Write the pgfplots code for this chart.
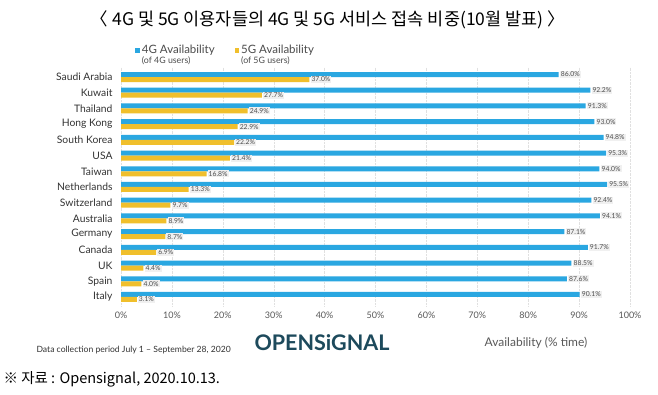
\documentclass[border=0pt]{standalone}
\usepackage{pgfplots}
\pgfplotsset{compat=1.18}
\usepackage{fontspec}
\setmainfont{Lato}
\newfontfamily\kr{Noto Sans CJK KR}
\definecolor{bar4g}{HTML}{2AA7E1}
\definecolor{bar5g}{HTML}{F0BF2C}
\definecolor{logo}{HTML}{1D4A5C}
\definecolor{txt}{HTML}{333333}
\begin{document}
\begin{tikzpicture}[x=1pt,y=1pt]
\useasboundingbox (0,0) rectangle (658,395);
\fill[white] (0,0) rectangle (658,395);
\begin{axis}[
  at={(121pt,88.6pt)}, anchor=south west,
  scale only axis, width=509pt, height=238.8pt,
  xmin=0, xmax=100, ymin=-0.6, ymax=14.6, y dir=reverse,
  /pgf/number format/assume math mode=true,
  axis line style={draw=none},
  major tick length=0pt,
  xtick={0,10,...,100},
  xticklabel={\pgfmathprintnumber{\tick}\%},
  xticklabel style={font=\fontsize{9}{10}\selectfont, text=black!65, yshift=-2pt},
  ytick={0,...,14},
  yticklabels={Saudi Arabia,Kuwait,Thailand,Hong Kong,South Korea,USA,Taiwan,Netherlands,Switzerland,Australia,Germany,Canada,UK,Spain,Italy},
  yticklabel style={font=\fontsize{10.3}{11}\selectfont, text=txt, xshift=-5pt},
  xmajorgrids, grid style={densely dotted, black!12},
  xbar, bar width=5pt,
  nodes near coords={\pgfmathprintnumber[fixed,fixed zerofill,precision=1]{\pgfplotspointmeta}\%},
  point meta=x,
  every node near coord/.append style={font=\fontsize{6.8}{7}\selectfont, text=black!70, fill=black!6, inner sep=1pt, anchor=west, xshift=1pt},
  legend columns=2,
  legend cell align=left,
  legend style={at={(0.022,1.112)}, anchor=north west, draw=none, fill=none,
     font=\fontsize{11.5}{11}\selectfont, text=black!70,
     cells={align=left},
     /tikz/every even column/.append style={column sep=18pt}},
  legend image code/.code={\fill[#1] (2pt,2.5pt) rectangle (6.5pt,7pt);},
]
\addplot[draw=none, fill=bar4g, bar shift=2.5pt] coordinates {
 (86.0,0) (92.2,1) (91.3,2) (93.0,3) (94.8,4) (95.3,5) (94.0,6) (95.5,7)
 (92.4,8) (94.1,9) (87.1,10) (91.7,11) (88.5,12) (87.6,13) (90.1,14)};
\addlegendentry{4G Availability\\[-1pt]{\fontsize{8.8}{8.8}\selectfont (of 4G users)}}
\addplot[draw=none, fill=bar5g, bar shift=-2.5pt] coordinates {
 (37.0,0) (27.7,1) (24.9,2) (22.9,3) (22.2,4) (21.4,5) (16.8,6) (13.3,7)
 (9.7,8) (8.9,9) (8.7,10) (6.9,11) (4.4,12) (4.0,13) (3.1,14)};
\addlegendentry{5G Availability\\[-1pt]{\fontsize{8.8}{8.8}\selectfont (of 5G users)}}
\end{axis}
\node[font=\kr\fontsize{17.5}{17.5}\selectfont, anchor=center] at (328,375) {〈 4G 및 5G 이용자들의 4G 및 5G 서비스 접속 비중(10월 발표) 〉};
\node[font=\fontsize{8.6}{9}\selectfont, text=black!80, anchor=west] at (33,45) {Data collection period July 1 – September 28, 2020};
\node[font=\bfseries\fontsize{21.5}{21.5}\selectfont, text=logo, anchor=center] at (322,52) {OPENSiGNAL};
\node[font=\fontsize{12}{12}\selectfont, text=black!65, anchor=center] at (536,52) {Availability (\% time)};
\node[font=\kr\fontsize{14.5}{14.5}\selectfont, anchor=west] at (0,16) {※ 자료 : Opensignal, 2020.10.13.};
\end{tikzpicture}
\end{document}
